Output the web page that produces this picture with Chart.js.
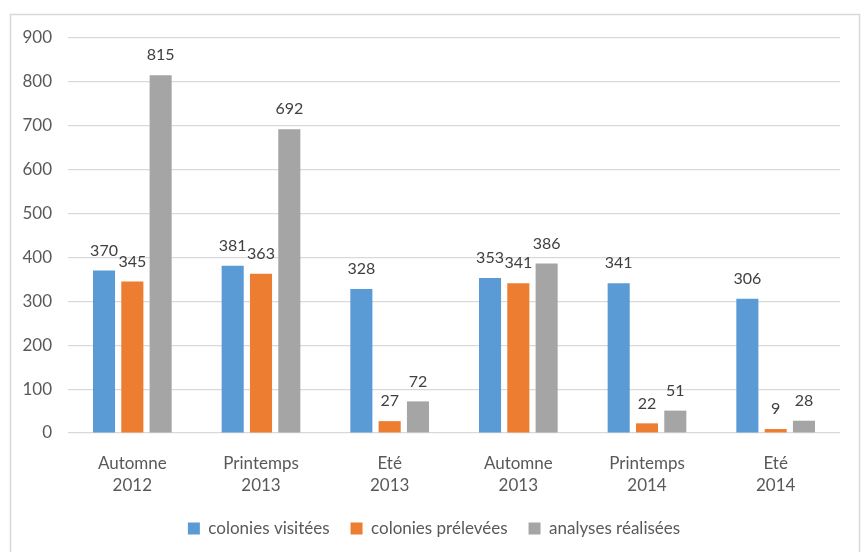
<!DOCTYPE html>
<html>
<head>
<meta charset="utf-8">
<script src="https://cdn.jsdelivr.net/npm/chart.js@4.4.0/dist/chart.umd.min.js"></script>
<style>
  html, body { margin: 0; padding: 0; background: #ffffff; }
  #wrap { width: 864px; height: 552px; position: relative; }
</style>
</head>
<body>
<div id="wrap"><canvas id="myChart"></canvas></div>
<script>
const categories = [['Automne', '2012'], ['Printemps', '2013'], ['Eté', '2013'], ['Automne', '2013'], ['Printemps', '2014'], ['Eté', '2014']];
const coloniesVisitees = [370, 381, 328, 353, 341, 306];
const coloniesPrelevees = [345, 363, 27, 341, 22, 9];
const analysesRealisees = [815, 692, 72, 386, 51, 28];
const yTicks = [0, 100, 200, 300, 400, 500, 600, 700, 800, 900];

const fontFamily = 'Lato, "Open Sans", sans-serif';

// cadre gris autour du graphique
const framePlugin = {
    id: 'frame',
    beforeDraw(chart) {
        const ctx = chart.ctx;
        ctx.save();
        ctx.fillStyle = '#ffffff';
        ctx.fillRect(0, 0, chart.width, chart.height);
        ctx.strokeStyle = '#d9d9d9';
        ctx.lineWidth = 1.5;
        ctx.strokeRect(10.5, 14.5, 849, 600);
        ctx.restore();
    }
};

// légende un peu décalée vers la droite, comme dans l'original
const legendShift = {
    id: 'legendShift',
    afterLayout(chart) {
        if (chart.legend) {
            chart.legend.left += 9;
            chart.legend.right += 9;
        }
    }
};

// étiquettes de valeurs au-dessus des barres
const valueLabels = {
    id: 'valueLabels',
    afterDatasetsDraw(chart) {
        const ctx = chart.ctx;
        ctx.save();
        ctx.font = '16px ' + fontFamily;
        ctx.fillStyle = '#404040';
        ctx.textAlign = 'center';
        ctx.textBaseline = 'middle';
        chart.data.datasets.forEach((ds, i) => {
            chart.getDatasetMeta(i).data.forEach((bar, j) => {
                ctx.fillText(ds.data[j], bar.x, bar.y - 20);
            });
        });
        ctx.restore();
    }
};

new Chart(document.getElementById('myChart'), {
    type: 'bar',
    data: {
        labels: categories,
        datasets: [{
            label: 'colonies visitées',
            data: coloniesVisitees,
            backgroundColor: '#5b9bd5'
        }, {
            label: 'colonies prélevées',
            data: coloniesPrelevees,
            backgroundColor: '#ed7d31'
        }, {
            label: 'analyses réalisées',
            data: analysesRealisees,
            backgroundColor: '#a5a5a5'
        }]
    },
    options: {
        responsive: true,
        maintainAspectRatio: false,
        animation: false,
        datasets: {
            bar: {
                categoryPercentage: 0.66,
                barPercentage: 0.78,
                borderWidth: 0
            }
        },
        layout: {
            padding: { left: 10, right: 24, top: 38, bottom: 5 }
        },
        scales: {
            y: {
                min: 0,
                max: 900,
                afterBuildTicks: (axis) => {
                    axis.ticks = yTicks.map(v => ({ value: v }));
                },
                afterFit: (axis) => { axis.width = 58; },
                ticks: {
                    padding: 16,
                    color: '#595959',
                    font: { family: fontFamily, size: 17 }
                },
                grid: {
                    color: '#d9d9d9',
                    lineWidth: 1.2,
                    drawTicks: false
                },
                border: { display: false }
            },
            x: {
                afterFit: (axis) => { axis.height = 66; },
                ticks: {
                    padding: 19,
                    color: '#595959',
                    font: { family: fontFamily, size: 17, lineHeight: 1.3 }
                },
                grid: {
                    display: false,
                    drawTicks: false
                },
                border: { display: false }
            }
        },
        plugins: {
            legend: {
                position: 'bottom',
                labels: {
                    boxWidth: 12,
                    boxHeight: 12,
                    padding: 21,
                    color: '#595959',
                    font: { family: fontFamily, size: 17 }
                }
            },
            tooltip: { enabled: false }
        }
    },
    plugins: [framePlugin, legendShift, valueLabels]
});
</script>
</body>
</html>
